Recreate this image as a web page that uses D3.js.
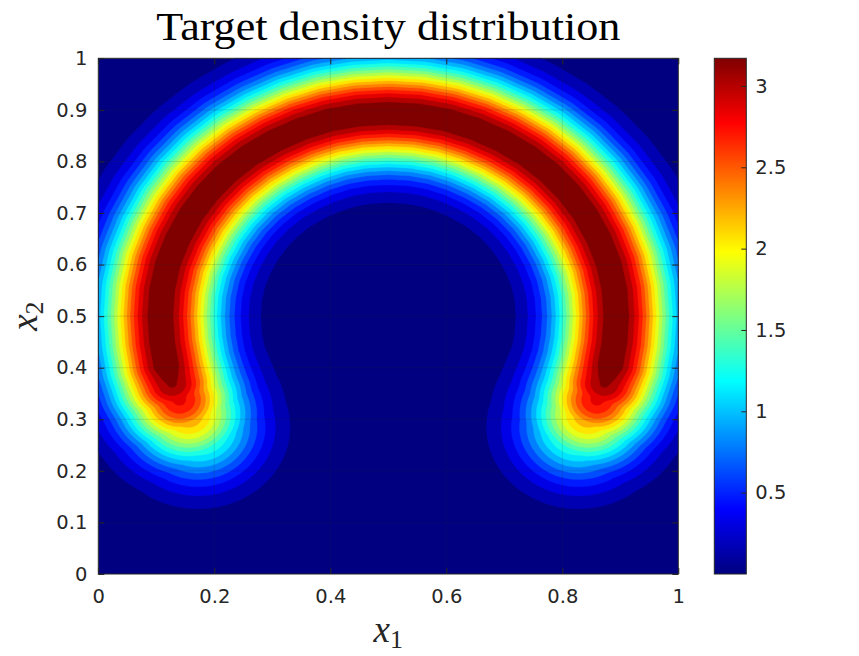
<!DOCTYPE html>
<html>
<head>
<meta charset="utf-8">
<script src="https://cdn.jsdelivr.net/npm/d3@7"></script>
<style>
  body { margin: 0; background: white; }
  svg { display: block; }
</style>
</head>
<body>
<svg id="chart" width="859" height="656"></svg>
<script>
// ridge of the density (left half, from the top centre down to the tail),
// read off the picture; the right half is its mirror image about x1 = 0.5
var ridgeX = [0.500, 0.449, 0.398, 0.350, 0.304, 0.261, 0.222, 0.188, 0.160, 0.137,
              0.120, 0.110, 0.107, 0.110, 0.117, 0.127, 0.140, 0.155, 0.172];
var ridgeY = [0.893, 0.890, 0.880, 0.863, 0.840, 0.812, 0.778, 0.739, 0.697, 0.650,
              0.602, 0.551, 0.500, 0.449, 0.405, 0.370, 0.338, 0.310, 0.285];
// peak height along the ridge and its spread
var ridgeA = [3.17, 3.17, 3.17, 3.17, 3.17, 3.17, 3.17, 3.17, 3.17, 3.17,
              3.17, 3.17, 3.17, 3.17, 3.17, 3.04, 2.75, 2.25, 1.60];
var ridgeS = [0.070, 0.070, 0.070, 0.070, 0.070, 0.070, 0.070, 0.070, 0.070, 0.070,
              0.070, 0.070, 0.070, 0.070, 0.070, 0.071, 0.072, 0.073, 0.073];

var xTicks = [0, 0.2, 0.4, 0.6, 0.8, 1];
var yTicks = [0, 0.1, 0.2, 0.3, 0.4, 0.5, 0.6, 0.7, 0.8, 0.9, 1];
var cbTicks = [0.5, 1, 1.5, 2, 2.5, 3];
var nLevels = 20;

var titleText = "Target density distribution";

// layout
var plotL = 98.3, plotR = 678.3, plotT = 58.3, plotB = 574;
var cbL = 714.3, cbR = 746.3;
var axisColor = "#262626";
var tickFont = "DejaVu Sans, sans-serif";

function jet(t) {
  t = Math.max(0, Math.min(1, t));
  function c(v) { return Math.round(255 * Math.max(0, Math.min(1, v))); }
  var r = 1.5 - Math.abs(4 * t - 3);
  var g = 1.5 - Math.abs(4 * t - 2);
  var b = 1.5 - Math.abs(4 * t - 1);
  return "rgb(" + c(r) + "," + c(g) + "," + c(b) + ")";
}

// full ridge: left tail -> top -> right tail
var ridge = [];
for (var i = ridgeX.length - 1; i >= 0; i--) {
  ridge.push({x: ridgeX[i], y: ridgeY[i], a: ridgeA[i], s: ridgeS[i]});
}
for (var i = 1; i < ridgeX.length; i++) {
  ridge.push({x: 1 - ridgeX[i], y: ridgeY[i], a: ridgeA[i], s: ridgeS[i]});
}

function density(px, py) {
  var best = 0;
  for (var k = 0; k < ridge.length - 1; k++) {
    var p = ridge[k], q = ridge[k + 1];
    var dx = q.x - p.x, dy = q.y - p.y;
    var t = ((px - p.x) * dx + (py - p.y) * dy) / (dx * dx + dy * dy);
    t = Math.max(0, Math.min(1, t));
    var ex = px - (p.x + t * dx), ey = py - (p.y + t * dy);
    var a = p.a + t * (q.a - p.a);
    var s = p.s + t * (q.s - p.s);
    var v = a * Math.exp(-(ex * ex + ey * ey) / (2 * s * s));
    if (v > best) best = v;
  }
  return best;
}

// sample the field on a grid (row 0 = top of the plot)
var n = 300;
var values = new Array(n * n);
for (var j = 0; j < n; j++) {
  for (var i = 0; i < n; i++) {
    values[j * n + i] = density((i + 0.5) / n, 1 - (j + 0.5) / n);
  }
}
var zExtent = d3.extent(values);
var zmin = zExtent[0], zmax = zExtent[1];
var levels = d3.range(1, nLevels + 1).map(function(k) {
  return zmin + k * (zmax - zmin) / (nLevels + 1);
});

var svg = d3.select("#chart");

var x = d3.scaleLinear().domain([0, 1]).range([plotL, plotR]);
var y = d3.scaleLinear().domain([0, 1]).range([plotB, plotT]);
var cbScale = d3.scaleLinear().domain([zmin, zmax]).range([plotB, plotT]);

var defs = svg.append("defs");
defs.append("clipPath").attr("id", "plot-clip")
  .append("rect")
  .attr("x", plotL).attr("y", plotT)
  .attr("width", plotR - plotL).attr("height", plotB - plotT);

// filled contours
var gPlot = svg.append("g").attr("clip-path", "url(#plot-clip)");

gPlot.append("rect")
  .attr("x", plotL).attr("y", plotT)
  .attr("width", plotR - plotL).attr("height", plotB - plotT)
  .attr("fill", jet(0));

var contours = d3.contours().size([n, n]).thresholds(levels)(values);

var path = d3.geoPath(d3.geoTransform({
  point: function(cx, cy) {
    this.stream.point(x(cx / n), y(1 - cy / n));
  }
}));

gPlot.selectAll("path.band")
  .data(contours)
  .enter().append("path")
  .attr("class", "band")
  .attr("d", path)
  .attr("fill", function(d, k) { return jet((k + 1) / nLevels); })
  .attr("stroke", function(d, k) { return jet((k + 1) / nLevels); })
  .attr("stroke-width", 0.3);

// grid lines on top
var gGrid = svg.append("g")
  .attr("stroke", axisColor)
  .attr("stroke-opacity", 0.15)
  .attr("stroke-width", 1);

gGrid.selectAll("line.gx")
  .data(xTicks.slice(1, -1))
  .enter().append("line")
  .attr("x1", function(d) { return x(d); })
  .attr("x2", function(d) { return x(d); })
  .attr("y1", plotT).attr("y2", plotB);

gGrid.selectAll("line.gy")
  .data(yTicks.slice(1, -1))
  .enter().append("line")
  .attr("y1", function(d) { return y(d); })
  .attr("y2", function(d) { return y(d); })
  .attr("x1", plotL).attr("x2", plotR);

// axes, ticks pointing inward
function styleAxis(g) {
  g.select(".domain").remove();
  g.selectAll(".tick line").attr("stroke", axisColor);
  g.selectAll(".tick text")
    .attr("fill", axisColor)
    .style("font-family", tickFont)
    .style("font-size", "19.5px");
}

svg.append("g")
  .attr("transform", "translate(0," + plotB + ")")
  .call(d3.axisBottom(x).tickValues(xTicks).tickSize(-6).tickPadding(15)
    .tickFormat(d3.format("~g")))
  .call(styleAxis);

svg.append("g")
  .attr("transform", "translate(0," + plotT + ")")
  .call(d3.axisTop(x).tickValues(xTicks).tickSize(-6).tickFormat(""))
  .call(styleAxis);

svg.append("g")
  .attr("transform", "translate(" + plotL + ",0)")
  .call(d3.axisLeft(y).tickValues(yTicks).tickSize(-6).tickPadding(11)
    .tickFormat(d3.format("~g")))
  .call(styleAxis);

svg.append("g")
  .attr("transform", "translate(" + plotR + ",0)")
  .call(d3.axisRight(y).tickValues(yTicks).tickSize(-6).tickFormat(""))
  .call(styleAxis);

svg.append("rect")
  .attr("x", plotL).attr("y", plotT)
  .attr("width", plotR - plotL).attr("height", plotB - plotT)
  .attr("fill", "none")
  .attr("stroke", axisColor)
  .attr("stroke-width", 1);

// colorbar
var grad = defs.append("linearGradient")
  .attr("id", "jet-grad")
  .attr("x1", 0).attr("y1", 1).attr("x2", 0).attr("y2", 0);
grad.selectAll("stop")
  .data(d3.range(0, 65))
  .enter().append("stop")
  .attr("offset", function(d) { return d / 64; })
  .attr("stop-color", function(d) { return jet(d / 64); });

svg.append("rect")
  .attr("x", cbL).attr("y", plotT)
  .attr("width", cbR - cbL).attr("height", plotB - plotT)
  .attr("fill", "url(#jet-grad)");

svg.append("g")
  .attr("transform", "translate(" + cbR + ",0)")
  .call(d3.axisRight(cbScale).tickValues(cbTicks).tickSize(-5).tickPadding(9)
    .tickFormat(d3.format("~g")))
  .call(styleAxis);

svg.append("rect")
  .attr("x", cbL).attr("y", plotT)
  .attr("width", cbR - cbL).attr("height", plotB - plotT)
  .attr("fill", "none")
  .attr("stroke", axisColor)
  .attr("stroke-width", 1);

// title and axis labels
svg.append("text")
  .attr("x", (plotL + plotR) / 2)
  .attr("y", 40)
  .attr("text-anchor", "middle")
  .attr("textLength", 464)
  .attr("lengthAdjust", "spacingAndGlyphs")
  .style("font-family", "Liberation Serif, serif")
  .style("font-size", "39px")
  .attr("fill", "black")
  .text(titleText);

var xLabel = svg.append("text")
  .attr("x", (plotL + plotR) / 2)
  .attr("y", 642)
  .attr("text-anchor", "middle")
  .style("font-family", "Liberation Serif, serif")
  .style("font-size", "37px")
  .attr("fill", axisColor);
xLabel.append("tspan").style("font-style", "italic").text("x");
xLabel.append("tspan").attr("dy", 6).style("font-size", "26px").text("1");

var yLabel = svg.append("text")
  .attr("transform", "translate(37," + ((plotT + plotB) / 2) + ") rotate(-90)")
  .attr("text-anchor", "middle")
  .style("font-family", "Liberation Serif, serif")
  .style("font-size", "37px")
  .attr("fill", axisColor);
yLabel.append("tspan").style("font-style", "italic").text("x");
yLabel.append("tspan").attr("dy", 6).style("font-size", "26px").text("2");
</script>
</body>
</html>
